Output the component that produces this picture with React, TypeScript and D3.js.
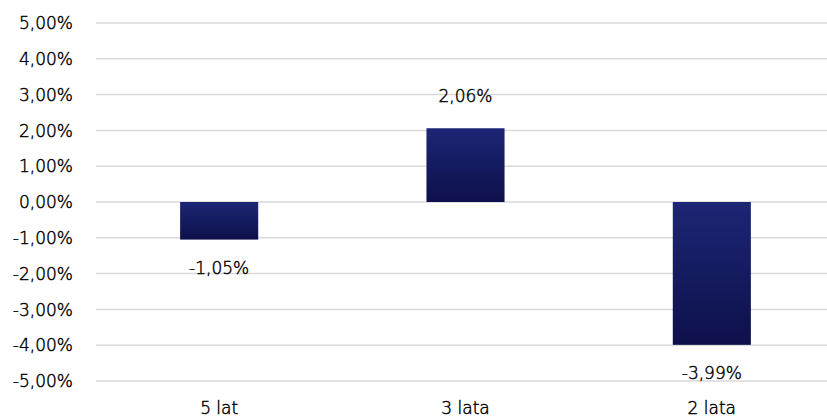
import React, { useEffect, useRef } from 'react';
import * as d3 from 'd3';

const categories = ['5 lat', '3 lata', '2 lata'];
const values = [-1.05, 2.06, -3.99];
const tickValues = [5, 4, 3, 2, 1, 0, -1, -2, -3, -4, -5];

const fmt = (v: number) => v.toFixed(2).replace('.', ',') + '%';

export default function App() {
  const ref = useRef<SVGSVGElement>(null);

  useEffect(() => {
    const svg = d3.select(ref.current);
    svg.selectAll('*').remove();

    const font = '"DejaVu Sans", sans-serif';
    const fs = 17;
    const fw = 200;
    const left = 96;
    const right = 835;

    const x = d3.scaleBand().domain(categories).range([left, right]).padding(0);
    const barW = x.bandwidth() * 0.317;
    const cx = (c: string) => (x(c) as number) + x.bandwidth() / 2;
    const y = d3.scaleLinear().domain([-5, 5]).range([381, 23]);

    const defs = svg.append('defs');
    const grad = defs.append('linearGradient')
      .attr('id', 'barGrad')
      .attr('x1', 0).attr('y1', 0).attr('x2', 0).attr('y2', 1);
    grad.append('stop').attr('offset', '0%').attr('stop-color', '#1d2675');
    grad.append('stop').attr('offset', '100%').attr('stop-color', '#0d104a');

    // gridlines
    svg.append('g')
      .selectAll('line')
      .data(tickValues)
      .enter()
      .append('line')
      .attr('x1', left)
      .attr('x2', right)
      .attr('y1', (d) => y(d))
      .attr('y2', (d) => y(d))
      .attr('stroke', '#d9d9d9')
      .attr('stroke-width', 1.5);

    const styleText = (sel: any) => sel
      .attr('font-family', font)
      .attr('font-weight', fw)
      .attr('font-size', fs)
      .attr('fill', '#000')
      .attr('stroke', '#000')
      .attr('stroke-width', 0.45);

    // y tick labels
    svg.append('g')
      .selectAll('text')
      .data(tickValues)
      .enter()
      .append('text')
      .attr('x', 73)
      .attr('y', (d) => y(d))
      .attr('dy', '0.36em')
      .attr('text-anchor', 'end')
      .call(styleText)
      .text((d) => fmt(d));

    const bars = categories.map((c, i) => ({ c, v: values[i] }));

    svg.append('g')
      .selectAll('rect')
      .data(bars)
      .enter()
      .append('rect')
      .attr('x', (d) => cx(d.c) - barW / 2)
      .attr('width', barW)
      .attr('y', (d) => y(Math.max(0, d.v)))
      .attr('height', (d) => Math.abs(y(d.v) - y(0)))
      .attr('fill', 'url(#barGrad)');

    // value labels
    svg.append('g')
      .selectAll('text')
      .data(bars)
      .enter()
      .append('text')
      .attr('x', (d) => cx(d.c))
      .attr('y', (d) => (d.v >= 0 ? y(d.v) - 26 : y(d.v) + 34))
      .attr('text-anchor', 'middle')
      .call(styleText)
      .text((d) => fmt(d.v));

    // category labels
    svg.append('g')
      .selectAll('text')
      .data(categories)
      .enter()
      .append('text')
      .attr('x', (d) => cx(d))
      .attr('y', 408)
      .attr('dy', '0.36em')
      .attr('text-anchor', 'middle')
      .call(styleText)
      .text((d) => d);
  }, []);

  return (
    <svg ref={ref} width={827} height={420} style={{ position: 'absolute', left: 0, top: 0 }} />
  );
}
